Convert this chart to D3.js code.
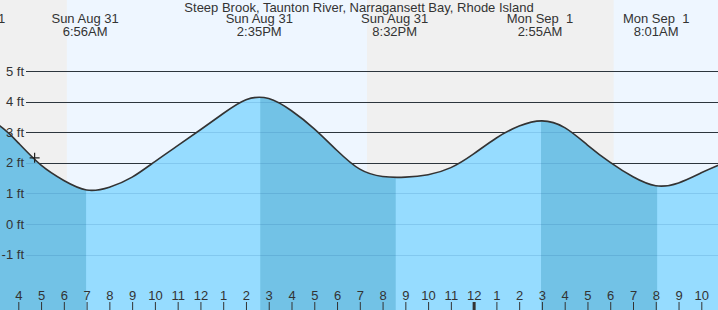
<!DOCTYPE html>
<html>
<head>
<meta charset="utf-8">
<script src="https://cdn.jsdelivr.net/npm/d3@7"></script>
<style>
  body { margin: 0; background: #fff; }
  svg { display: block; font-family: Arial, "Liberation Sans", sans-serif; }
</style>
</head>
<body>
<div id="chart"></div>
<script>
var title = "Steep Brook, Taunton River, Narragansett Bay, Rhode Island";

// hourly predicted water level (ft), starting at tideStart
var tideStart = "2025-08-31 02:00";
var tideFeet = [3.40, 3.29, 2.65, 1.92, 1.42, 1.11, 1.20, 1.53, 2.04, 2.56,
  3.08, 3.61, 4.06, 4.10, 3.70, 3.11, 2.40, 1.79, 1.55, 1.53,
  1.61, 1.84, 2.29, 2.81, 3.20, 3.37, 3.15, 2.58, 2.01, 1.54,
  1.25, 1.34, 1.67, 2.00];

// high / low tide events
var eventTimes = ["2025-08-31 01:57", "2025-08-31 06:56", "2025-08-31 14:35",
  "2025-08-31 20:32", "2025-09-01 02:55", "2025-09-01 08:01"];
var eventTypes = ["H", "L", "H", "L", "H", "L"];

// sun
var sunrise = ["2025-08-31 06:08", "2025-09-01 06:09"];
var sunset = ["2025-08-31 19:19"];

var yTicks = [-1, 0, 1, 2, 3, 4, 5];
var nowTime = "2025-08-31 04:43";
var nowFeet = 2.16;

var width = 718, height = 310;
var parse = d3.timeParse("%Y-%m-%d %H:%M");

var x = d3.scaleTime()
  .domain([parse("2025-08-31 04:00"), parse("2025-09-01 10:00")])
  .range([18.3, 701.3]);
var y = d3.scaleLinear().domain([-1, 5]).range([254.5, 71]);

var t0 = parse(tideStart);
var tide = tideFeet.map(function (v, i) { return { t: d3.timeHour.offset(t0, i), v: v }; });
var events = eventTimes.map(function (s, i) { return { t: parse(s), type: eventTypes[i] }; });

var svg = d3.select("#chart").append("svg")
  .attr("width", width)
  .attr("height", height);

// sky: day background with night bands
svg.append("rect").attr("width", width).attr("height", height).attr("fill", "#eef6ff");
var nights = [[x.invert(0), parse(sunrise[0])], [parse(sunset[0]), parse(sunrise[1])]];
svg.selectAll(".night").data(nights).enter().append("rect")
  .attr("class", "night")
  .attr("x", d => x(d[0]))
  .attr("width", d => x(d[1]) - x(d[0]))
  .attr("y", 0)
  .attr("height", height)
  .attr("fill", "#f0f0f0");

// grid lines above water
svg.selectAll(".grid").data(yTicks).enter().append("line")
  .attr("class", "grid")
  .attr("x1", 26).attr("x2", width)
  .attr("y1", d => Math.round(y(d)) + 0.5).attr("y2", d => Math.round(y(d)) + 0.5)
  .attr("stroke", "#333").attr("stroke-width", 1);

// water
var area = d3.area()
  .x(d => x(d.t))
  .y0(height)
  .y1(d => y(d.v))
  .curve(d3.curveNatural);

svg.append("clipPath").attr("id", "water")
  .append("path").attr("d", area(tide));

svg.append("path").attr("d", area(tide)).attr("fill", "#96dcff");

// falling tide is darker: from each high to the next low
var falling = [];
events.forEach(function (e, i) {
  if (e.type == "H" && events[i + 1]) falling.push([e.t, events[i + 1].t]);
});
svg.append("g").attr("clip-path", "url(#water)")
  .selectAll("rect").data(falling).enter().append("rect")
  .attr("x", d => x(d[0]) + 1)
  .attr("width", d => x(d[1]) - x(d[0]))
  .attr("y", 0)
  .attr("height", height)
  .attr("fill", "#72c2e6");

// faint grid lines under water
svg.selectAll(".grid2").data(yTicks).enter().append("line")
  .attr("class", "grid2")
  .attr("x1", 26).attr("x2", width)
  .attr("y1", d => Math.round(y(d)) + 0.5).attr("y2", d => Math.round(y(d)) + 0.5)
  .attr("stroke", "rgba(0,70,130,0.13)").attr("stroke-width", 1);

// tide curve
var line = d3.line()
  .x(d => x(d.t))
  .y(d => y(d.v))
  .curve(d3.curveNatural);
svg.append("path").attr("d", line(tide))
  .attr("fill", "none").attr("stroke", "#333").attr("stroke-width", 1.6);

// y labels
svg.selectAll(".ylab").data(yTicks).enter().append("text")
  .attr("class", "ylab")
  .attr("x", 24).attr("y", d => y(d)).attr("dy", "0.36em")
  .attr("text-anchor", "end")
  .attr("font-size", 13).attr("fill", "#333")
  .text(d => d + " ft");

// current time marker
var nx = x(parse(nowTime)), ny = y(nowFeet);
svg.append("path")
  .attr("d", "M" + (nx - 5) + "," + ny + "H" + (nx + 5) + "M" + nx + "," + (ny - 5) + "V" + (ny + 5))
  .attr("stroke", "#222").attr("stroke-width", 1.2);

// header
svg.append("text").attr("x", width / 2).attr("y", 12)
  .attr("text-anchor", "middle").attr("font-size", 13).attr("fill", "#333")
  .text(title);

var fmtDay = d3.timeFormat("%a %b %e"), fmtTime = d3.timeFormat("%-I:%M%p");
var lab = svg.selectAll(".evt").data(events).enter().append("g").attr("class", "evt")
  .attr("transform", d => "translate(" + x(d.t) + ",0)")
  .attr("text-anchor", "middle").attr("font-size", 13).attr("fill", "#333");
lab.append("text").attr("y", 23).attr("xml:space", "preserve").text(d => fmtDay(d.t));
lab.append("text").attr("y", 36).text(d => fmtTime(d.t));

// hour axis
var axis = d3.axisTop(x)
  .ticks(d3.timeHour.every(1))
  .tickFormat(d3.timeFormat("%-I"))
  .tickSize(8)
  .tickPadding(2);
var ax = svg.append("g").attr("transform", "translate(0," + height + ")").call(axis);
ax.select(".domain").remove();
ax.selectAll("line").attr("stroke", "#333");
ax.selectAll("text").attr("font-size", 13).attr("fill", "#333").attr("font-family", "Arial, 'Liberation Sans', sans-serif");
ax.selectAll(".tick").filter(d => d.getHours() == 0).select("line").attr("stroke-width", 3);
</script>
</body>
</html>
